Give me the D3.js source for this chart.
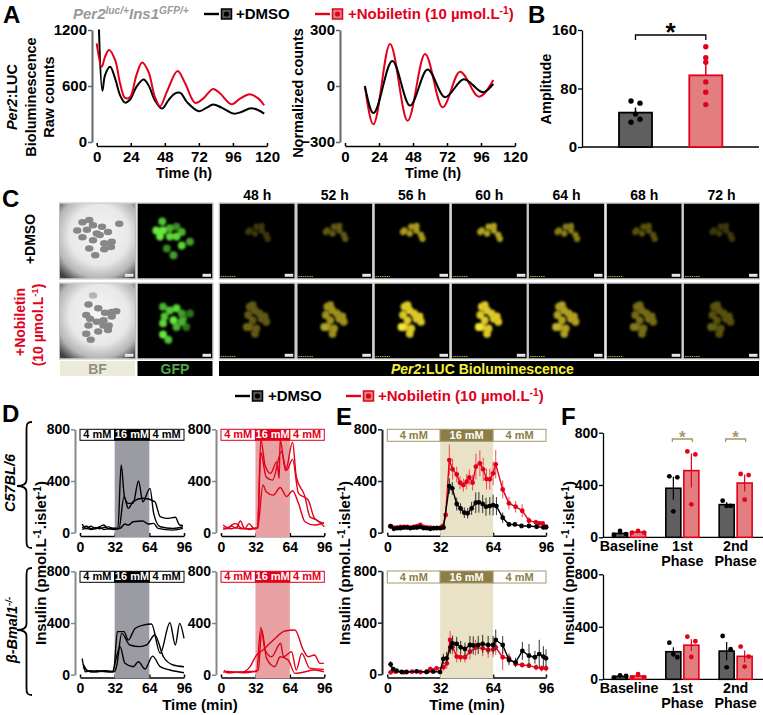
<!DOCTYPE html>
<html><head><meta charset="utf-8">
<script src="https://cdn.jsdelivr.net/npm/d3@7"></script>
<style>html,body{margin:0;padding:0;background:#fff}svg{display:block}text{font-family:"Liberation Sans",Arial,sans-serif;font-weight:700}</style>
</head><body><svg id="c" width="763" height="715" viewBox="0 0 763 715"></svg>
<script>
// ---------- Panel A, raw counts
const rawTimeBlack=[1.6,4,5.9,9.4,13,16.5,20,23.5,28,33,36.5,41,46,50.5,55,59,63.5,72,77.6,82,88,96.5,102,108.7,114,118];
const rawBlack=[1206,548,716,805,680,500,422,455,590,669,608,447,358,447,519,526,430,330,369,401,369,304,322,362,340,304];
const rawTimeRed=[0,3.5,5.9,8.7,13,16.5,20,23.5,28,32,36.5,41,44.7,49.4,57,62.4,69.4,75,82,87,95,101,108,114,118];
const rawRed=[1056,805,913,985,877,626,472,483,716,852,752,483,383,537,762,626,419,465,569,519,405,465,512,465,394];
// Panel A, normalized counts
const normTimeBlack=[14,20,33.4,45.9,58.3,70.6,84,97.6,104.7];
const normBlack=[0,-145,134,-105,89,-60,36,-34,11];
const normTimeRed=[14,20,31.8,44.2,56.5,68.9,81.2,94.6,104.7];
const normRed=[0,-205,225,-186,171,-114,77,-57,32];
const countXTicks=[0,24,48,72,96,120];
// ---------- Panel B
const ampGroups=["DMSO","Nobiletin"];
const ampMeans=[47,98];
const ampErrs=[7,16];
const ampPointsDMSO=[63,60,45,34,38];
const ampPointsNob=[137,122,116,89,75,58];
const ampTicks=[0,80,160];
// ---------- Panel C
const frameHours=[48,52,56,60,64,68,72];
const lumDMSO=[.26,.42,.72,.76,.58,.38,.26];
const lumNob=[.42,.68,.95,.95,.75,.5,.38];
const bfIslets1=[[30,25],[39,22],[23,36],[36,35],[30,45],[44,49],[53,42],[56,31],[64,38],[49,40],[69,51],[59,53],[68,58],[59,61],[39,60],[47,69],[79,27],[44,29]];
const bfIslets2=[[44,16],[38,28],[51,33],[35,42],[40,47],[60,39],[69,38],[75,37],[49,51],[58,49],[69,44],[38,56],[51,64],[65,56],[35,67],[41,75],[64,62],[58,56]];
const gfpIslets1=[[33,24,.8],[25,36,1],[34,36,1],[43,33,.7],[59,38,.7],[30,44,1],[43,44,.9],[52,44,.9],[59,56,.9],[70,51,.6],[39,60,.5],[48,69,.6],[52,31,.5]];
const gfpIslets2=[[34,31,.7],[43,36,.8],[52,33,.9],[59,40,.6],[36,44,.8],[48,49,1],[34,53,.9],[52,58,.7],[34,68,1],[41,75,.8],[61,47,.5],[70,40,.35],[65,58,.35],[59,51,.7]];
const lumIslets1=[[38,38],[47,40],[56,36],[62,42],[49,31],[64,47],[56,30],[40,36]];
const lumIslets2=[[40,31],[47,36],[53,40],[44,49],[56,47],[60,44],[40,58],[49,60],[44,29],[38,42],[47,67],[62,51],[36,58]];
// ---------- Panel D traces
const dTimes1=[2,6,10,14,18,22,26,31,35,38,41,44.6,49,54,58,64.6,68,74,86,95];
const dc57b1=[67,30,50,35,45,60,30,33,33,524,279,227,227,400,240,343,150,46,33,46];
const dTimes2=[2,6,10,14,18,22,26,31,36,40.6,44.6,49,58,69,74,80,88,92,95];
const dc57b2=[40,50,30,40,30,40,45,35,33,279,188,240,266,240,124,111,119,60,57];
const dTimes3=[2,6,10,14,18,22,26,31,37,41.5,44.6,49,58,63,68,72,86,95];
const dc57b3=[25,35,25,30,40,25,30,25,33,67,59,85,90,67,72,33,20,33];
const rTimes1=[2,6,10,14,18,22,26,31,34,37,41,46,52,54,55,60,66.5,70,78,82.6,89,96];
const dc57r1=[60,40,50,35,90,30,70,30,40,720,520,459,550,420,717,480,700,433,279,124,98,46];
const rTimes2=[2,6,10,14,18,22,26,31,34,37,42,48,56,61,66.5,72,81,87,95.6];
const dc57r2=[40,30,60,70,40,30,30,35,40,620,430,407,627,485,567,304,253,110,72];
const rTimes3=[2,6,10,14,18,22,26,31,34,39,42,48.6,55,61,66.5,72,78,87,95.6];
const dc57r3=[25,35,30,40,30,35,25,30,35,369,317,291,350,279,325,227,85,59,77];
const bTimes1=[2,5,10,16,22,28,31,34.5,40.6,44.6,50.8,58.5,66,74,83,88,92,96];
const dbmk1=[125,23,30,25,30,25,30,333,333,268,358,384,392,165,402,230,397,281];
const bTimes2=[3,6,10,16,22,28,32,34,38.5,46,55,61.5,69,77,86,96];
const dbmk2=[60,35,25,30,25,20,25,75,320,230,217,230,307,139,75,62];
const bTimes3=[3,7,12,18,24,30,33,37,41.5,49,54,60,67,74,83,96];
const dbmk3=[80,30,20,25,30,25,113,217,88,62,100,44,144,62,36,15];
const brTimes1=[2,6,12,20,27,33,39,48.6,59.4,68.7,76.5,81,87,92,95.6];
const dbmr1=[20,25,20,20,62,152,191,268,338,346,191,139,152,88,88];
const brTimes2=[3,6,12,20,28,33,37,41,47,55.4,58,65.6,70,75,82.6,95.6];
const dbmr2=[35,15,20,22,25,23,366,191,139,243,139,178,36,165,49,41];
const brTimes3=[4,8,14,22,30,34.7,37.8,42.4,50,55,62.5,68.7,74,87,95.6];
const dbmr3=[20,15,18,15,25,36,346,126,62,139,113,10,15,36,23];
const timeTicks=[0,32,64,96];
const insulinTicks=[0,400,800];
const glucoseLabels=["4 mM","16 mM","4 mM"];
const glucoseEdges=[0,32,64,96];
// ---------- Panel E means (with SEM)
const eTimeTopBlack=[2,4,6,8,10,12,14,16,18,20,22,24,26,28,30,32,34,37.5,39.3,42,44.3,46.6,48.6,51,53.5,55.4,57.7,59.7,62,64,66,69.8,73.6,77.2,81.2,85.7,90.3,94.4,96];
const eTopBlack=[50,30,35,35,40,40,35,40,40,45,35,35,30,35,35,35,40,361,343,222,188,155,150,188,232,235,222,201,206,214,206,116,64,64,52,52,46,41,42];
const eTopBlackErr=[10,8,8,8,8,8,8,8,8,10,8,8,8,8,8,8,10,60,50,50,40,40,40,50,80,80,70,70,70,80,70,40,20,15,12,12,10,10,10];
const eTimeTopRed=[2,4,6,8,10,12,14,16,18,20,22,24,26,28,30,32,33.5,35.3,37.5,39.5,42,44,46,48,49.6,51.6,53.6,56,58,60,62,64,65.6,69.8,73.6,77.6,81.6,85.7,89.9,92,94,96];
const eTopRed=[50,40,40,45,45,45,40,45,50,60,45,40,40,35,38,38,50,137,562,490,451,387,369,395,428,387,511,537,490,415,413,459,529,335,227,201,170,93,80,72,72,46];
const eTopRedErr=[10,8,8,8,8,8,8,8,10,12,8,8,8,8,8,8,10,30,120,80,60,50,50,60,60,60,100,100,90,80,80,90,110,70,50,45,50,30,20,15,15,10];
const eTimeBotBlack=[2,3.6,5.6,8.7,11.7,17.7,23.7,27.8,31.9,33.9,35.9,38.3,39.5,42,44.4,47,50,52,55,57.7,61,64,65.6,69.8,73.6,77.6,81.7,85.7,89.3,91.9,94.4,96];
const eBotBlack=[77,39,28,18,18,23,18,21,18,119,124,209,240,235,209,196,227,224,227,235,227,227,266,227,111,93,181,144,132,157,137,124];
const eBotBlackErr=[25,12,8,6,6,6,6,6,6,40,50,50,60,55,50,50,70,70,70,70,70,70,80,70,40,35,70,90,50,110,80,70];
const eTimeBotRed=[2,5,10,15,20,24,26,29.8,34,36,38,39.5,42,44.3,47,50,53.4,57.7,61,64,65.6,69.8,73.6,77.6,81.6,85.7,90,93.4,96];
const eBotRed=[15,20,15,20,18,20,39,46,54,85,266,214,137,132,132,175,206,201,188,193,209,132,124,80,72,67,54,46,46];
const eBotRedErr=[12,8,6,6,6,6,20,20,25,40,70,60,45,40,40,60,60,60,60,60,60,100,40,25,20,20,25,25,25];
// ---------- Panel F
const phaseLabels=["Baseline","1st","2nd"];
const fTopMeansDMSO=[30,375,250];
const fTopMeansNob=[40,510,415];
const fTopErrDMSO=[10,88,20];
const fTopErrNob=[5,130,65];
const fTopPtsDMSO=[[18,48,25],[466,459,199],[280,240,240]];
const fTopPtsNob=[[36,48,36],[657,634,252],[484,476,288]];
const fBotMeansDMSO=[22,210,215];
const fBotMeansNob=[25,260,175];
const fBotErrDMSO=[6,35,70];
const fBotErrNob=[10,45,45];
const fBotPtsDMSO=[[13,30,25],[279,168,190],[330,229,91]];
const fBotPtsNob=[[13,40,15],[325,290,170],[249,173,97]];

// ---------- colours / helpers
const RED="#e2001a",BLK="#000",GOLD="#a39868",GOLDD="#8b7e47",GREY="#666";
const svg=d3.select("#c");
const defs=svg.append("defs");
function txt(x,y,s,size,fill,opt={}){
  const t=svg.append("text").attr("x",x).attr("y",y).attr("font-size",size).attr("fill",fill||"#000")
    .attr("text-anchor",opt.anchor||"start");
  if(opt.rot!==undefined)t.attr("transform",`rotate(${opt.rot} ${x} ${y})`);
  (Array.isArray(s)?s:[s]).forEach(p=>{
    if(typeof p==="string"){t.append("tspan").text(p);return;}
    const sp=t.append("tspan").text(p.t);
    if(p.i)sp.attr("font-style","italic");
    if(p.sup)sp.attr("font-size",size*.68).attr("baseline-shift","super");
  });
  return t;
}
function rotTxt(x,y,s,size,fill){return txt(x,y,s,size,fill,{anchor:"middle",rot:-90});}
function axes(o){
  const x=d3.scaleLinear().domain(o.xd).range(o.xr);
  const y=d3.scaleLinear().domain(o.yd).range(o.yr);
  const gx=svg.append("g").attr("transform",`translate(0,${o.ax})`)
    .call(d3.axisBottom(x).tickValues(o.xt).tickFormat(d3.format("d")).tickSize(-3).tickSizeOuter(0).tickPadding(o.xp||6));
  const gy=svg.append("g").attr("transform",`translate(${o.ay},0)`)
    .call(d3.axisLeft(y).tickValues(o.yt).tickFormat(d3.format("d")).tickSize(4).tickSizeOuter(0).tickPadding(1));
  [gx,gy].forEach((g,i)=>{
    g.selectAll("path").attr("stroke",i?(o.yc||GREY):"#000").attr("stroke-width",i?2:1.5);
    g.selectAll("line").attr("stroke",i?(o.yc||GREY):"#000").attr("stroke-width",1.5);
    g.selectAll("text").attr("font-size",o.fs||14.5).attr("fill","#000").attr("font-family",'"Liberation Sans",Arial,sans-serif').attr("font-weight",700);
  });
  return {x,y};
}
function line(sc,xs,ys,col,w,curve){
  svg.append("path").datum(xs.map((t,i)=>[t,ys[i]]))
    .attr("d",d3.line().x(d=>sc.x(d[0])).y(d=>sc.y(d[1])).curve(curve||d3.curveCatmullRom.alpha(.5)))
    .attr("fill","none").attr("stroke",col).attr("stroke-width",w).attr("stroke-linejoin","round");
}
function legendKey(x,y,col,fill){
  svg.append("line").attr("x1",x).attr("x2",x+15).attr("y1",y).attr("y2",y).attr("stroke",col).attr("stroke-width",2.4);
  svg.append("rect").attr("x",x+17.5).attr("y",y-5).attr("width",10).attr("height",10).attr("fill",fill).attr("stroke",col).attr("stroke-width",1.5);
  svg.append("circle").attr("cx",x+22.5).attr("cy",y).attr("r",2.6).attr("fill",col);
}
// ---------- panel letters
[["A",3,23],["B",528,23],["C",2,207],["D",2,422],["E",336,425],["F",561,425]]
  .forEach(d=>txt(d[1],d[2],d[0],24,"#000"));

// ---------- top legend
txt(73,19,[{t:"Per2",i:1},{t:"luc/+",i:1,sup:1},{t:"Ins1",i:1},{t:"GFP/+",i:1,sup:1}],15,"#999");
legendKey(204,14,"#000","#555");
txt(236,19,"+DMSO",15,"#000");
legendKey(315,14,RED,"#e08080");
txt(348,19,["+Nobiletin (10 µmol.L",{t:"-1",sup:1},")"],15,RED);
// ---------- Panel A
const a1=axes({xd:[0,120],xr:[96.7,267],xt:countXTicks,yd:[0,1200],yr:[142,30],yt:[0,600,1200],ax:146,ay:92,fs:15,xp:5});
line(a1,rawTimeBlack,rawBlack,BLK,2);
line(a1,rawTimeRed,rawRed,RED,2);
rotTxt(17,97,[{t:"Per2",i:1},":LUC"],14.5,"#000");
rotTxt(36,97,"Bioluminescence",14.5,"#000");
rotTxt(54,97,"Raw counts",14.5,"#000");
txt(184,177.5,"Time (h)",14.5,"#000",{anchor:"middle"});
const a2=axes({xd:[0,120],xr:[345,515],xt:countXTicks,yd:[-300,300],yr:[142,30],yt:[-300,0,300],ax:146,ay:340,fs:15,xp:5});
line(a2,normTimeRed,normRed,RED,2,d3.curveMonotoneX);
line(a2,normTimeBlack,normBlack,BLK,2,d3.curveMonotoneX);
rotTxt(303,93,"Normalized counts",14.5,"#000");
txt(433,177.5,"Time (h)",14.5,"#000",{anchor:"middle"});

// ---------- Panel B
(function(){
  const y=d3.scaleLinear().domain([0,160]).range([147,30]);
  const g=svg.append("g").attr("transform","translate(582,0)").call(d3.axisLeft(y).tickValues(ampTicks).tickSize(4).tickSizeOuter(0).tickPadding(1));
  g.selectAll("path,line").attr("stroke","#000").attr("stroke-width",1.3);
  g.selectAll("text").attr("font-size",15).attr("fill","#000").attr("font-family",'"Liberation Sans",Arial,sans-serif').attr("font-weight",700);
  svg.append("line").attr("x1",582).attr("x2",759).attr("y1",147).attr("y2",147).attr("stroke","#000").attr("stroke-width",1.3);
  const x=d3.scalePoint().domain(ampGroups).range([635.5,705.8]);
  const cols=[BLK,RED],fills=["#5f5f5f","#e27d80"];
  ampGroups.forEach((name,i)=>{
    const cx=x(name),m=ampMeans[i];
    svg.append("rect").attr("x",cx-16.5).attr("width",33).attr("y",y(m)).attr("height",147-y(m)).attr("fill",fills[i]).attr("stroke",cols[i]).attr("stroke-width",1.8);
    svg.append("line").attr("x1",cx).attr("x2",cx).attr("y1",y(m+ampErrs[i])).attr("y2",y(m)).attr("stroke",cols[i]).attr("stroke-width",1.5);
  });
  const off=[-4.5,4.5,0,-4.5,4.5];
  ampPointsDMSO.forEach((v,i)=>svg.append("circle").attr("cx",x("DMSO")+off[i]).attr("cy",y(v)).attr("r",2.7).attr("fill",BLK));
  ampPointsNob.forEach(v=>svg.append("circle").attr("cx",x("Nobiletin")).attr("cy",y(v)).attr("r",2.7).attr("fill",RED));
  svg.append("path").attr("d",`M${x("DMSO")},40V35H${x("Nobiletin")}V40`).attr("fill","none").attr("stroke","#000").attr("stroke-width",1.3);
  txt(670.5,41,"*",26,"#000",{anchor:"middle"});
  rotTxt(551,89,"Amplitude",14.5,"#000");
})();

// ---------- Panel C
(function(){
  const colX=[60,137.5,219.7,297.3,374.5,451.8,529,606.7,684];
  const rowY=[203.5,283.5];
  const S=75;
  const u=d3.scaleLinear().domain([0,100]).range([0,S]);
  const rg=defs.append("radialGradient").attr("id","bf").attr("cx","52%").attr("cy","42%").attr("r","72%");
  [[0,"#f6f6f6"],[.55,"#e8e8e8"],[.8,"#b5b5b5"],[1,"#404040"]].forEach(d=>rg.append("stop").attr("offset",d[0]).attr("stop-color",d[1]));
  [["b1",.6],["b2",1],["b3",1.1]].forEach(d=>defs.append("filter").attr("id",d[0]).attr("x","-20%").attr("y","-20%").attr("width","140%").attr("height","140%")
    .append("feGaussianBlur").attr("stdDeviation",d[1]));
  function frame(cx,cy,fill){
    const g=svg.append("g").attr("transform",`translate(${cx},${cy})`);
    const clip="cl"+Math.round(cx)+"_"+Math.round(cy);
    defs.append("clipPath").attr("id",clip).append("rect").attr("width",S).attr("height",S);
    g.append("rect").attr("width",S).attr("height",S).attr("fill",fill);
    const inner=g.append("g").attr("clip-path",`url(#${clip})`);
    g.append("rect").attr("x",-.5).attr("y",-.5).attr("width",S+1).attr("height",S+1).attr("fill","none").attr("stroke","#bdbdbd");
    return {g,inner};
  }
  function scalebar(g,tiny){
    g.append("rect").attr("x",65).attr("y",70.3).attr("width",8.5).attr("height",3).attr("fill","#e6e6e6");
    if(tiny)g.append("line").attr("x1",1).attr("x2",16).attr("y1",73).attr("y2",73).attr("stroke","#a5a340").attr("stroke-width",1).attr("stroke-dasharray","1.5 .7");
  }
  [[bfIslets1,gfpIslets1,rowY[0]],[bfIslets2,gfpIslets2,rowY[1]]].forEach(r=>{
    const f=frame(colX[0],r[2],"url(#bf)");
    f.inner.append("g").attr("filter","url(#b1)").selectAll("ellipse").data(r[0]).join("ellipse")
      .attr("cx",d=>u(d[0])).attr("cy",d=>u(d[1])).attr("rx",u(5.6)).attr("ry",u(4.4))
      .attr("fill",(d,i)=>i===0&&r[0]===bfIslets2?"#b5b5b5":"#878787");
    scalebar(f.g,false);
    const h=frame(colX[1],r[2],"#000");
    h.inner.append("g").attr("filter","url(#b2)").selectAll("circle").data(r[1]).join("circle")
      .attr("cx",d=>u(d[0])).attr("cy",d=>u(d[1])).attr("r",u(5.2)).attr("fill",d=>d3.interpolateRgb("#0c300c","#66ea3c")(d[2]));
    scalebar(h.g,false);
  });
  frameHours.forEach((h,k)=>{
    const cx=colX[k+2];
    txt(cx+S/2,200,h+" h",14,"#000",{anchor:"middle"});
    [[lumIslets1,lumDMSO,rowY[0],4.2],[lumIslets2,lumNob,rowY[1],5.2]].forEach(r=>{
      const f=frame(cx,r[2],"#000");
      const col=d3.interpolateRgb("#000","#e8d42a")(r[1][k]);
      const hot=d3.interpolateRgb("#000","#fff23c")(r[1][k]);
      f.inner.append("g").attr("filter","url(#b3)").selectAll("circle").data(r[0]).join("circle")
        .attr("cx",d=>u(d[0])).attr("cy",d=>u(d[1])).attr("r",u(r[3]))
        .attr("fill",(d,i)=>r[0]===lumIslets2&&i>=r[0].length-1?hot:col);
      scalebar(f.g,true);
    });
  });
  svg.append("rect").attr("x",60).attr("y",361).attr("width",75).attr("height",15).attr("fill","#ecead9");
  svg.append("rect").attr("x",137.5).attr("y",361).attr("width",75).attr("height",15).attr("fill","#000");
  svg.append("rect").attr("x",219).attr("y",361).attr("width",540).attr("height",15).attr("fill","#000");
  txt(97.5,373.5,"BF",14,"#8e8e88",{anchor:"middle"});
  txt(175,373.5,"GFP",14,"#4da84a",{anchor:"middle"});
  txt(391,373.5,[{t:"Per2",i:1},":LUC Bioluminescence"],14,"#f5f03c");
  rotTxt(35,239,"+DMSO",14,"#000");
  rotTxt(25,322,"+Nobiletin",14,RED);
  rotTxt(43,325,["(10 µmol.L",{t:"-1",sup:1},")"],14,RED);
})();

// ---------- second legend
legendKey(235,396,"#000","#555");
txt(268,401,"+DMSO",15,"#000");
legendKey(346,396,RED,"#e08080");
txt(378,401,["+Nobiletin (10 µmol.L",{t:"-1",sup:1},")"],15,RED);

// ---------- glucose box + shading
function glucose(sc,yTop,h,bottom,col,solid,shade,txtCol){
  svg.append("rect").attr("x",sc.x(32)).attr("width",sc.x(64)-sc.x(32)).attr("y",yTop+h).attr("height",bottom-yTop-h).attr("fill",shade);
  glucoseLabels.forEach((s,i)=>{
    const x0=sc.x(glucoseEdges[i]),x1=sc.x(glucoseEdges[i+1]);
    svg.append("rect").attr("x",x0).attr("y",yTop).attr("width",x1-x0).attr("height",h)
      .attr("fill",i===1?solid:"#fff").attr("stroke",col).attr("stroke-width",1);
    txt((x0+x1)/2,yTop+h-2.2,s,11,i===1?"#fff":txtCol,{anchor:"middle"});
  });
}
function dPanel(xr,ay,yr,ax,col,solid,shade,traces,w){
  const s=axes({xd:[0,96],xr,xt:timeTicks,yd:[0,800],yr,yt:insulinTicks,ax,ay,fs:14,yc:"#888"});
  glucose(s,yr[1],11,ax+1,col,solid,shade,col);
  traces.forEach(t=>line(s,t[0],t[1],col===BLK?"#000":RED,w,d3.curveMonotoneX));
  return s;
}
dPanel([80,184],75,[532.7,429.3],536,BLK,"#000","#9b9ba3",[[dTimes1,dc57b1],[dTimes2,dc57b2],[dTimes3,dc57b3]],1.4);
dPanel([221,324.3],216,[532.7,429.3],536,RED,RED,"#e9a2a4",[[rTimes1,dc57r1],[rTimes2,dc57r2],[rTimes3,dc57r3]],1.4);
dPanel([80,184],75,[674.7,571.3],677.5,BLK,"#000","#9b9ba3",[[bTimes1,dbmk1],[bTimes2,dbmk2],[bTimes3,dbmk3]],1.4);
dPanel([221,324.3],216,[674.7,571.3],677.5,RED,RED,"#e9a2a4",[[brTimes1,dbmr1],[brTimes2,dbmr2],[brTimes3,dbmr3]],1.4);
const ylab=["Insulin (pmol.L",{t:"-1",sup:1},".islet",{t:"-1",sup:1},")"];
rotTxt(46,563,ylab,15,"#000");
txt(200,710,"Time (min)",15,"#000",{anchor:"middle"});
// strain labels + braces
function brace(top,tip,bot){
  svg.append("path").attr("d",`M32,${top}C27,${top} 26.5,${top+2} 26.5,${top+7}V${tip-6}C26.5,${tip-2} 24,${tip} 17,${tip}C24,${tip} 26.5,${tip+2} 26.5,${tip+6}V${bot-7}C26.5,${bot-2} 27,${bot} 32,${bot}`)
    .attr("fill","none").attr("stroke","#000").attr("stroke-width",1.8);
}
brace(422,486,548);brace(568,630,695);
rotTxt(15,483,[{t:"C57BL/6",i:1}],14.5,"#000");
rotTxt(17,630,[{t:"β-Bmal1",i:1},{t:"-/-",i:1,sup:1}],14.5,"#000");

// ---------- Panel E
function ePanel(yr,ax,series){
  const s=axes({xd:[0,96],xr:[387.3,546],xt:timeTicks,yd:[0,800],yr,yt:insulinTicks,ax,ay:382,fs:14,yc:"#222"});
  glucose(s,yr[1],12,ax+1,GOLD,GOLDD,"#e9e2c6",GOLDD);
  series.forEach(d=>{
    const [ts,vs,es,col,errCol]=d;
    const g=svg.append("g");
    g.selectAll("line").data(ts).join("line").attr("x1",t=>s.x(t)).attr("x2",t=>s.x(t))
      .attr("y1",(t,i)=>s.y(vs[i]+es[i])).attr("y2",(t,i)=>s.y(Math.max(0,vs[i]-es[i]))).attr("stroke",errCol).attr("stroke-width",1);
    line(s,ts,vs,col,1.4,d3.curveLinear);
    g.selectAll("circle").data(ts).join("circle").attr("cx",t=>s.x(t)).attr("cy",(t,i)=>s.y(vs[i])).attr("r",2.4).attr("fill",col);
  });
}
ePanel([532.7,429.3],535.7,[[eTimeTopRed,eTopRed,eTopRedErr,RED,"#ee4a55"],[eTimeTopBlack,eTopBlack,eTopBlackErr,BLK,"#333"]]);
ePanel([674.3,571],677.5,[[eTimeBotRed,eBotRed,eBotRedErr,RED,"#ee4a55"],[eTimeBotBlack,eBotBlack,eBotBlackErr,BLK,"#333"]]);
rotTxt(350,563,ylab,15,"#000");
txt(467,710,"Time (min)",15,"#000",{anchor:"middle"});

// ---------- Panel F
function fPanel(yr,bars,pts,errs,labY){
  const y=d3.scaleLinear().domain([0,800]).range(yr);
  const g=svg.append("g").attr("transform","translate(603,0)").call(d3.axisLeft(y).tickValues(insulinTicks).tickSize(4).tickSizeOuter(0).tickPadding(1));
  g.selectAll("path,line").attr("stroke","#000").attr("stroke-width",1.3);
  g.selectAll("text").attr("font-size",14).attr("fill","#000").attr("font-family",'"Liberation Sans",Arial,sans-serif').attr("font-weight",700);
  svg.append("line").attr("x1",603).attr("x2",763).attr("y1",yr[0]).attr("y2",yr[0]).attr("stroke","#000").attr("stroke-width",1.3);
  const x=d3.scaleBand().domain(phaseLabels).range([602.4,762.3]).padding(0);
  const cols=[BLK,RED],fills=["#5f5f5f","#e27d80"];
  phaseLabels.forEach((p,k)=>{
    const c=x(p)+x.bandwidth()/2;
    [-9,9].forEach((o,s)=>{
      const cx=c+o,v=bars[s][k],e=errs[s][k];
      svg.append("rect").attr("x",cx-7.5).attr("width",15).attr("y",y(v)).attr("height",yr[0]-y(v)).attr("fill",fills[s]).attr("stroke",cols[s]).attr("stroke-width",1.6);
      svg.append("line").attr("x1",cx).attr("x2",cx).attr("y1",y(v+e)).attr("y2",y(Math.max(0,v-e))).attr("stroke",cols[s]).attr("stroke-width",1.2);
      pts[s][k].forEach((d,i)=>{
        const dx=k===0?[-6,0,6][i]:[-4,4,0][i];
        svg.append("circle").attr("cx",cx+dx).attr("cy",y(d)).attr("r",2.4).attr("fill",cols[s]);
      });
    });
    txt(c,labY,p,14.3,"#000",{anchor:"middle"});
    if(k>0)txt(c,labY+15,"Phase",14.3,"#000",{anchor:"middle"});
  });
  return {x,y};
}
const fT=fPanel([537.3,432.7],[fTopMeansDMSO,fTopMeansNob],[fTopPtsDMSO,fTopPtsNob],[fTopErrDMSO,fTopErrNob],551);
fPanel([679.3,574.3],[fBotMeansDMSO,fBotMeansNob],[fBotPtsDMSO,fBotPtsNob],[fBotErrDMSO,fBotErrNob],693);
phaseLabels.slice(1).forEach(p=>{
  const c=fT.x(p)+fT.x.bandwidth()/2;
  svg.append("path").attr("d",`M${c-10},442V439H${c+10}V442`).attr("fill","none").attr("stroke",GOLD).attr("stroke-width",1.3);
  txt(c,443,"*",17,GOLD,{anchor:"middle"});
});
rotTxt(574,563,ylab,15,"#000");
</script></body></html>
